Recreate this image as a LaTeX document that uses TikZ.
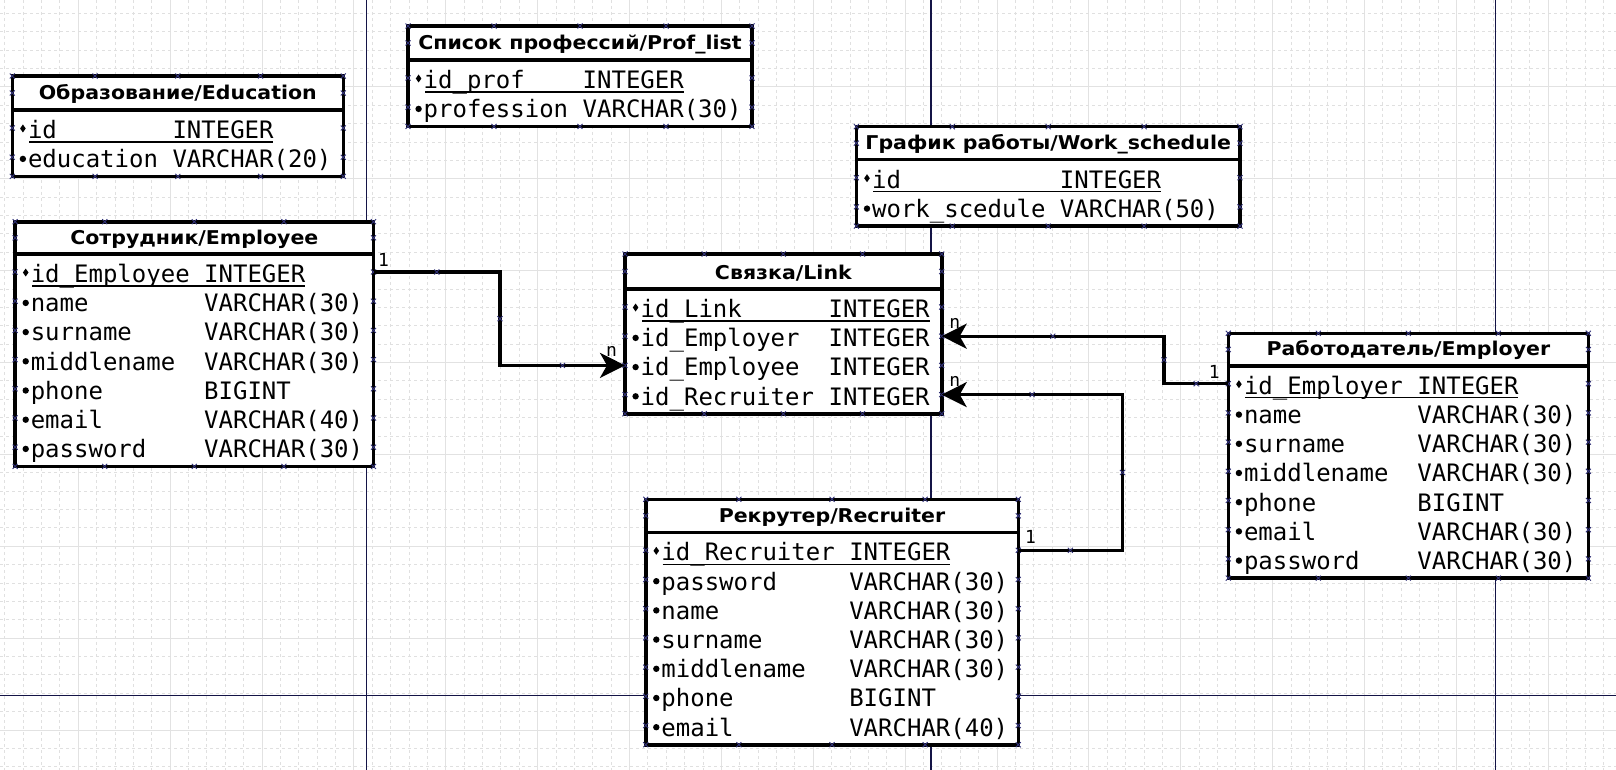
\documentclass[tikz,border=0pt]{standalone}
\usepackage{fontspec}
\setmainfont{DejaVu Sans}
\newfontfamily\monof{DejaVu Sans Mono}
\newfontfamily\titlef{DejaVu Sans}[FakeStretch=1.08]
\usetikzlibrary{arrows.meta,calc,shapes.misc}
\definecolor{pageline}{RGB}{20,20,70}
\definecolor{gridmaj}{RGB}{226,226,226}
\definecolor{gridmin}{RGB}{224,224,224}
\definecolor{mk}{RGB}{50,50,120}
\tikzset{
  tblbox/.style={draw=black, fill=white, line width=3.6pt, rectangle, inner sep=0pt, outer sep=0pt},
  tblline/.style={draw=black, line width=3.6pt},
  tbltitle/.style={anchor=base, inner sep=0pt, font=\titlef\fontsize{19}{22}\selectfont\bfseries},
  fieldtext/.style={anchor=base west, inner sep=0pt, font=\monof\fontsize{24}{28}\selectfont},
  card/.style={inner sep=0pt, font=\monof\fontsize{18}{20}\selectfont},
  conn/.style={draw=black, line width=3.2pt},
  arr/.style={-{Stealth[length=25pt,width=25pt,inset=7pt]}},
  xmark/.style={draw=mk, cross out, line width=0.9pt, minimum size=5pt, inner sep=0pt, outer sep=0pt},
  mkline/.style={draw=mk, line width=0.9pt},
  uline/.style={draw=black, line width=1.3pt},
  pagerule/.style={draw=pageline, line width=1.4pt},
}
\newcommand\xmk[2]{\draw[mkline] ({#1-2.5},{#2-2.5}) -- ({#1+2.5},{#2+2.5}) ({#1-2.5},{#2+2.5}) -- ({#1+2.5},{#2-2.5});}
% #1 name #2 L #3 T #4 R #5 S #6 nrows #7 cols #8 title
\newcommand\ertable[8]{%
  \def\tN{#1}%
  \pgfmathsetmacro\tL{#2}\pgfmathsetmacro\tT{#3}\pgfmathsetmacro\tR{#4}\pgfmathsetmacro\tS{#5}%
  \pgfmathsetmacro\tB{#5+37.2+(#6-1)*29.2}%
  \pgfmathsetmacro\tC{#7}%
  \pgfmathsetmacro\tW{\tR-\tL}\pgfmathsetmacro\tH{\tB-\tT}%
  \node[tblbox, minimum width=\tW pt, minimum height=\tH pt, anchor=north west] (#1) at (\tL,\tT) {};
  \draw[tblline] (\tL,\tS) -- (\tR,\tS);
  \node[tbltitle] (#1-title) at ({(\tL+\tR)/2},{\tS-10}) {#8};
  \foreach \f in {0,0.25,0.5,0.75,1}{\xmk{\tL+\f*\tW}{\tT}\xmk{\tL+\f*\tW}{\tB}}
  \xmk{\tL}{(\tT+\tS)/2}\xmk{\tR}{(\tT+\tS)/2}
}
% #1 index #2 key(1/0) #3 field #4 type
\newcommand\errow[4]{%
  \pgfmathsetmacro\rb{\tS+28.5+#1*29.2}%
  \node[fieldtext] (\tN-f#1) at ({\tL+15.5},\rb) {#3};
  \node[fieldtext] (\tN-t#1) at ({\tL+15.5+\tC*14.45},\rb) {#4};
  \coordinate (\tN-r#1-w) at (\tL,{\rb-10.5});
  \coordinate (\tN-r#1-e) at (\tR,{\rb-10.5});
  \ifnum#2=1
    \fill ({\tL+10.6},{\rb-14}) -- ({\tL+13.4},{\rb-10}) -- ({\tL+10.6},{\rb-6}) -- ({\tL+7.8},{\rb-10}) -- cycle;
    \draw[uline] ({\tL+17},{\rb+3.5}) -- ({\tL+15.5+\tC*14.45+7*14.45},{\rb+3.5});
  \else
    \fill ({\tL+10.6},{\rb-8.8}) circle[radius=3.2];
  \fi
  \xmk{\tL}{\rb-10.5}\xmk{\tR}{\rb-10.5}
}
\begin{document}
\begin{tikzpicture}[x=1pt,y=-1pt]
\useasboundingbox (0,0) rectangle (1616,770);
\fill[white] (0,0) rectangle (1616,770);
\begin{scope}
  \clip (0,0) rectangle (1616,770);
  \foreach \k in {-4,...,83}{
    \pgfmathtruncatemacro\mm{mod(\k+100,5)}
    \pgfmathsetmacro\xx{78.3+\k*18.375}
    \ifnum\mm=0
      \draw[gridmaj,line width=1pt] (\xx,0) -- (\xx,770);
    \else
      \draw[gridmin,line width=0.9pt,dash pattern=on 3pt off 3pt] (\xx,0) -- (\xx,770);
    \fi
  }
  \foreach \k in {-4,...,37}{
    \pgfmathtruncatemacro\mm{mod(\k+100,5)}
    \pgfmathsetmacro\yy{86.9+\k*18.375}
    \ifnum\mm=0
      \draw[gridmaj,line width=1pt] (0,\yy) -- (1616,\yy);
    \else
      \draw[gridmin,line width=0.9pt,dash pattern=on 3pt off 3pt] (0,\yy) -- (1616,\yy);
    \fi
  }
  \draw[pagerule] (366.7,0) -- (366.7,770);
  \draw[pagerule] (931,0) -- (931,770);
  \draw[pagerule] (1495.3,0) -- (1495.3,770);
  \draw[pagerule] (0,695.3) -- (1616,695.3);
\end{scope}

\ertable{edu}{12.3}{76}{343.3}{110}{2}{10}{Образование/Education}
\errow{0}{1}{id}{INTEGER}
\errow{1}{0}{education}{VARCHAR(20)}

\ertable{prof}{408}{26}{752}{60}{2}{11}{Список профессий/Prof\_list}
\errow{0}{1}{id\_prof}{INTEGER}
\errow{1}{0}{profession}{VARCHAR(30)}

\ertable{work}{856.4}{126.7}{1240}{159.7}{2}{13}{График работы/Work\_schedule}
\errow{0}{1}{id}{INTEGER}
\errow{1}{0}{work\_scedule}{VARCHAR(50)}

\ertable{emp}{15.1}{221.7}{373.5}{254}{7}{12}{Сотрудник/Employee}
\errow{0}{1}{id\_Employee}{INTEGER}
\errow{1}{0}{name}{VARCHAR(30)}
\errow{2}{0}{surname}{VARCHAR(30)}
\errow{3}{0}{middlename}{VARCHAR(30)}
\errow{4}{0}{phone}{BIGINT}
\errow{5}{0}{email}{VARCHAR(40)}
\errow{6}{0}{password}{VARCHAR(30)}

\ertable{link}{625}{254}{941.7}{289}{4}{13}{Связка/Link}
\errow{0}{1}{id\_Link}{INTEGER}
\errow{1}{0}{id\_Employer}{INTEGER}
\errow{2}{0}{id\_Employee}{INTEGER}
\errow{3}{0}{id\_Recruiter}{INTEGER}

\ertable{er}{1228.3}{333.3}{1588.4}{365.7}{7}{12}{Работодатель/Employer}
\errow{0}{1}{id\_Employer}{INTEGER}
\errow{1}{0}{name}{VARCHAR(30)}
\errow{2}{0}{surname}{VARCHAR(30)}
\errow{3}{0}{middlename}{VARCHAR(30)}
\errow{4}{0}{phone}{BIGINT}
\errow{5}{0}{email}{VARCHAR(30)}
\errow{6}{0}{password}{VARCHAR(30)}

\ertable{rec}{645.7}{499.3}{1018.3}{532.3}{7}{13}{Рекрутер/Recruiter}
\errow{0}{1}{id\_Recruiter}{INTEGER}
\errow{1}{0}{password}{VARCHAR(30)}
\errow{2}{0}{name}{VARCHAR(30)}
\errow{3}{0}{surname}{VARCHAR(30)}
\errow{4}{0}{middlename}{VARCHAR(30)}
\errow{5}{0}{phone}{BIGINT}
\errow{6}{0}{email}{VARCHAR(40)}

\coordinate (j1) at (500,0);
\coordinate (j2) at (1164,0);
\coordinate (j3) at (1122.5,0);

\draw[conn,arr] (emp-r0-e) -- node[xmark] (m1) {} (emp-r0-e -| j1)
  -- node[xmark] (m2) {} (j1 |- link-r2-w) -- node[xmark] (m3) {} (link-r2-w);
\draw[conn,arr] (er-r0-w) -- node[xmark] (m4) {} (er-r0-w -| j2)
  -- node[xmark] (m5) {} (j2 |- link-r1-e) -- node[xmark] (m6) {} (link-r1-e);
\draw[conn,arr] (rec-r0-e) -- node[xmark] (m7) {} (rec-r0-e -| j3)
  -- node[xmark] (m8) {} (j3 |- link-r3-e) -- node[xmark] (m9) {} (link-r3-e);

\node[card] (lab1) at ($(emp-r0-e)+(10,-12.5)$) {1};
\node[card] (lab2) at ($(link-r2-w)+(-13.5,-13.7)$) {n};
\node[card] (lab3) at ($(link-r1-e)+(13,-13)$) {n};
\node[card] (lab4) at ($(link-r3-e)+(13,-13)$) {n};
\node[card] (lab5) at ($(er-r0-w)+(-14,-12)$) {1};
\node[card] (lab6) at ($(rec-r0-e)+(12.3,-13.6)$) {1};
\end{tikzpicture}
\end{document}
